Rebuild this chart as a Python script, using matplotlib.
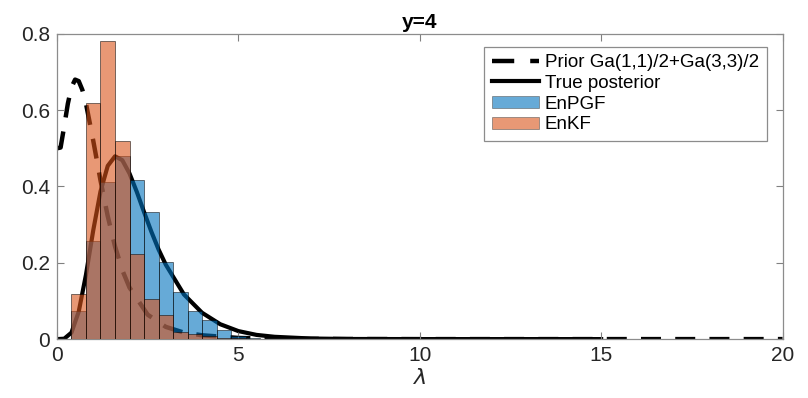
import matplotlib.pyplot as plt
from matplotlib.lines import Line2D
from matplotlib.patches import Patch

plt.rcParams['font.family'] = ['Liberation Sans', 'DejaVu Sans']

# prior density Ga(1,1)/2+Ga(3,3)/2
lam_prior = [0, 0.1, 0.2, 0.3, 0.4, 0.5, 0.6, 0.7, 0.8, 1.0, 1.2, 1.4, 1.6, 1.8,
             2.0, 2.5, 3.0, 3.5, 4.0, 5.0, 6.0, 8.0, 10.0, 20.0]
prior = [0.5, 0.502, 0.558, 0.617, 0.660, 0.680, 0.676, 0.653, 0.617, 0.520,
         0.416, 0.322, 0.243, 0.181, 0.135, 0.064, 0.032, 0.017, 0.010, 0.003,
         0.001, 0.0002, 0, 0]

# true posterior
lam_post = [0, 0.2, 0.4, 0.6, 0.8, 1.0, 1.2, 1.4, 1.6, 1.8, 2.0, 2.2, 2.4, 2.6,
            2.8, 3.0, 3.5, 4.0, 4.5, 5.0, 5.5, 6.0, 7.0, 8.0, 10.0, 15.0]
post = [0, 0.001, 0.017, 0.072, 0.169, 0.285, 0.387, 0.454, 0.479, 0.469,
        0.434, 0.386, 0.333, 0.282, 0.235, 0.195, 0.117, 0.069, 0.039, 0.021,
        0.011, 0.006, 0.0015, 0.0003, 0, 0]

# histogram bins (left edges) and normalised heights
bin_left = [0.4, 0.8, 1.2, 1.6, 2.0, 2.4, 2.8, 3.2, 3.6, 4.0, 4.4, 4.8, 5.2]
bin_width = 0.4
enpgf = [0.074, 0.258, 0.413, 0.480, 0.416, 0.332, 0.203, 0.124, 0.074,
         0.049, 0.023, 0.008, 0.002]
enkf = [0.119, 0.618, 0.782, 0.518, 0.224, 0.105, 0.062, 0.018, 0.014,
        0.008, 0.004, 0.002, 0.001]

blue = (0.0, 0.447, 0.741)
orange = (0.85, 0.325, 0.098)
dash = (4.5, 3.2)

fig = plt.figure(figsize=(8.08, 3.98), dpi=100)
ax = fig.add_axes([0.0705, 0.148, 0.898, 0.767])

ax.plot(lam_prior, prior, color='black', lw=3.2, dashes=dash, zorder=1)
ax.plot(lam_post, post, color='black', lw=3.0, zorder=1)

ax.bar(bin_left, enpgf, width=bin_width, align='edge', color=blue, alpha=0.6,
       edgecolor=(0, 0, 0, 0.6), linewidth=0.6, zorder=2)
ax.bar(bin_left, enkf, width=bin_width, align='edge', color=orange, alpha=0.6,
       edgecolor=(0, 0, 0, 0.6), linewidth=0.6, zorder=3)

ax.set_xlim(0, 20)
ax.set_ylim(0, 0.8)
ax.set_xticks([0, 5, 10, 15, 20])
ax.set_yticks([0, 0.2, 0.4, 0.6, 0.8])
ax.set_yticklabels(['0', '0.2', '0.4', '0.6', '0.8'])
ax.tick_params(direction='in', top=True, right=True, length=5, width=0.8,
               color='0.5', labelsize=15, labelcolor='0.15', pad=5)
for s in ax.spines.values():
    s.set_color('0.55')
    s.set_linewidth(0.9)

ax.set_xlabel(r'$\lambda$', fontsize=16, color='0.15', labelpad=2)
ax.set_title('y=4', fontsize=15, fontweight='bold', pad=4)

handles = [
    Line2D([], [], color='black', lw=3.2, dashes=(5.0, 3.6)),
    Line2D([], [], color='black', lw=3.0),
    Patch(facecolor=blue, alpha=0.6, edgecolor='0.3', linewidth=0.6),
    Patch(facecolor=orange, alpha=0.6, edgecolor='0.3', linewidth=0.6),
]
labels = ['Prior Ga(1,1)/2+Ga(3,3)/2', 'True posterior', 'EnPGF', 'EnKF']
leg = ax.legend(handles, labels, loc='upper right',
                bbox_to_anchor=(0.978, 0.958), borderaxespad=0,
                fontsize=13.5, fancybox=False, framealpha=1, edgecolor='0.55',
                handlelength=2.55, handleheight=0.65, handletextpad=0.3,
                labelspacing=0.2, borderpad=0.4)
leg.get_frame().set_linewidth(0.9)

fig.savefig('out.png', dpi=100)
